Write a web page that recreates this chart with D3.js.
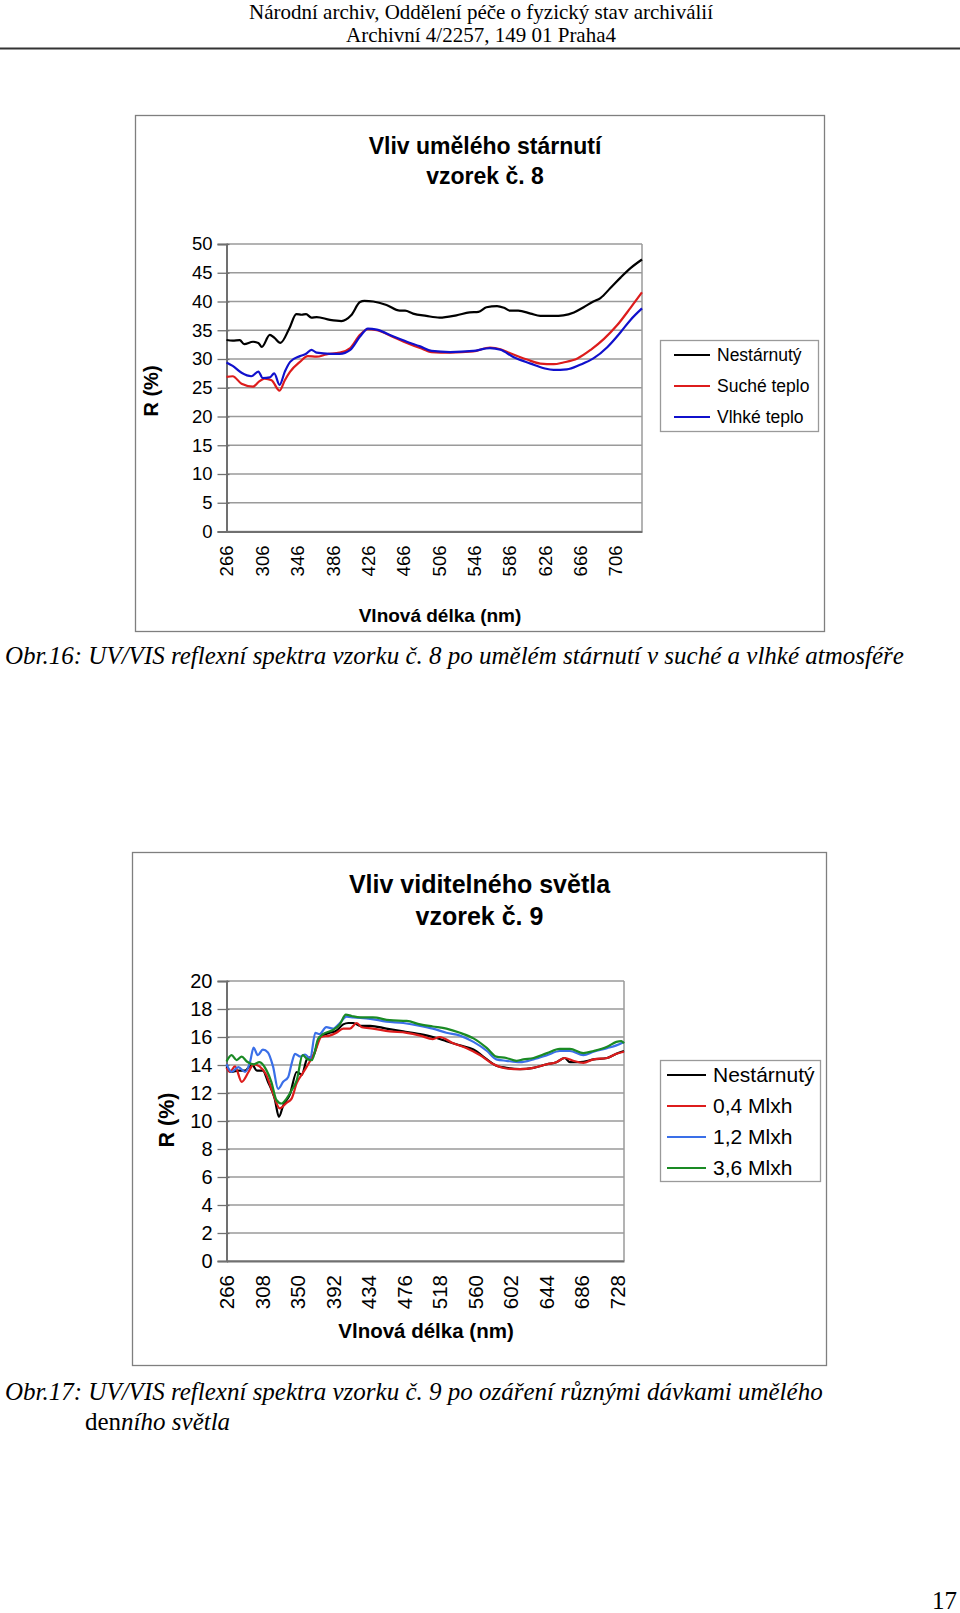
<!DOCTYPE html>
<html><head><meta charset="utf-8">
<script src="https://cdn.jsdelivr.net/npm/d3@7"></script>
<style>
body{margin:0;background:#fff;}
svg{display:block;}
.serif{font-family:"Liberation Serif","Times New Roman",serif;}
.sans{font-family:"Liberation Sans",Arial,sans-serif;}
</style></head>
<body>
<svg id="page" width="960" height="1613"></svg>
<script>
// ---------- DATA ----------
// Chart 1: Vliv umělého stárnutí, vzorek č. 8  ([wavelength nm, R %])
const c8Nestarnuty = [[266,33.3],[273,33.2],[281,33.3],[286,32.6],[296,33.0],[302,32.8],[306,32.1],[315,34.2],[320,33.7],[327,32.8],[337,35.3],[345,37.8],[351,37.7],[356,37.8],[362,37.2],[368,37.3],[383,36.8],[396,36.6],[407,37.6],[417,39.9],[422,40.1],[432,40.0],[447,39.4],[462,38.4],[468,38.4],[477,37.9],[492,37.5],[507,37.2],[526,37.6],[541,38.1],[551,38.2],[560,39.0],[572,39.2],[580,38.9],[587,38.4],[596,38.4],[610,37.9],[621,37.5],[636,37.5],[647,37.6],[659,38.1],[670,39.0],[681,40.0],[689,40.6],[700,42.3],[712,44.2],[723,45.8],[736,47.3]];
const c8Suche = [[266,26.9],[273,27.0],[283,25.7],[296,25.2],[303,26.1],[309,26.6],[317,26.3],[326,24.5],[332,26.3],[338,27.8],[349,29.5],[358,30.5],[368,30.4],[379,30.8],[394,31.1],[406,31.9],[417,34.2],[426,35.2],[436,35.0],[455,33.8],[470,32.8],[485,31.9],[498,31.2],[519,31.1],[545,31.3],[564,32.0],[576,31.7],[587,31.0],[606,29.9],[621,29.2],[636,29.1],[647,29.4],[663,30.1],[678,31.6],[693,33.5],[708,35.9],[723,38.9],[736,41.6]];
const c8Vlhke = [[266,29.4],[273,28.8],[283,27.6],[294,27.0],[302,27.8],[307,26.7],[315,26.8],[320,27.5],[326,25.5],[332,27.8],[338,29.5],[349,30.5],[356,30.9],[362,31.6],[368,31.1],[383,30.9],[394,30.9],[406,31.6],[417,33.9],[426,35.3],[436,35.1],[455,33.9],[470,33.0],[485,32.2],[498,31.4],[519,31.2],[545,31.4],[564,31.9],[576,31.6],[591,30.3],[610,29.2],[625,28.4],[636,28.1],[651,28.2],[666,29.0],[681,30.1],[697,32.1],[712,34.7],[723,36.8],[736,38.8]];
const c8XTicks = [266,306,346,386,426,466,506,546,586,626,666,706];
const c8YTicks = [0,5,10,15,20,25,30,35,40,45,50];
const c8Names = ["Nestárnutý","Suché teplo","Vlhké teplo"];

// Chart 2: Vliv viditelného světla, vzorek č. 9
const c9Nestarnuty = [[266,13.9],[272,13.5],[280,13.6],[288,13.6],[296,14.05],[302,13.6],[309,13.6],[315,12.8],[323,11.6],[328,10.3],[333,11.1],[341,11.9],[349,13.5],[355,13.3],[361,14.4],[369,14.7],[376,16.0],[388,16.3],[396,16.45],[404,16.9],[410,17.0],[416,17.0],[424,16.8],[436,16.8],[455,16.6],[475,16.4],[495,16.2],[510,16.0],[526,15.7],[542,15.4],[558,15.1],[574,14.4],[585,13.95],[597,13.8],[613,13.7],[629,13.8],[645,14.05],[656,14.2],[666,14.5],[672,14.2],[684,14.2],[700,14.4],[716,14.5],[727,14.8],[736,15.0]];
const c9Dose04 = [[266,13.8],[270,13.5],[276,13.9],[284,12.8],[292,13.5],[298,14.05],[305,13.9],[313,13.3],[321,12.0],[329,10.9],[337,11.3],[343,11.6],[349,12.7],[357,13.5],[365,14.3],[371,15.0],[378,16.0],[388,16.1],[396,16.3],[404,16.6],[412,16.6],[420,17.0],[426,16.7],[439,16.6],[459,16.4],[479,16.3],[495,16.1],[510,15.85],[518,16.0],[534,15.55],[550,15.2],[566,14.7],[582,14.05],[597,13.75],[613,13.7],[629,13.8],[645,14.05],[656,14.2],[666,14.5],[676,14.3],[688,14.15],[700,14.4],[716,14.5],[727,14.8],[736,14.95]];
const c9Dose12 = [[266,14.05],[272,13.5],[280,13.85],[288,13.5],[294,14.25],[298,15.25],[303,14.7],[309,15.1],[315,14.9],[321,13.9],[327,12.3],[333,12.8],[339,13.15],[343,14.1],[347,14.8],[353,14.6],[359,14.75],[365,14.45],[371,16.3],[376,16.2],[384,16.7],[392,16.6],[400,17.0],[408,17.45],[416,17.4],[436,17.3],[455,17.1],[475,17.0],[495,16.8],[510,16.6],[526,16.3],[542,16.1],[558,15.65],[574,15.0],[585,14.4],[597,14.3],[613,14.2],[629,14.4],[645,14.7],[660,15.0],[672,15.0],[688,14.7],[700,14.95],[716,15.2],[727,15.4],[736,15.65]];
const c9Dose36 = [[266,14.25],[272,14.7],[278,14.35],[284,14.6],[290,14.25],[298,14.05],[305,14.2],[313,13.65],[319,12.8],[325,11.5],[331,11.25],[337,11.6],[343,12.2],[349,12.9],[356,14.7],[361,14.45],[367,14.35],[374,15.8],[380,16.2],[392,16.5],[400,16.9],[407,17.6],[414,17.5],[424,17.4],[439,17.4],[459,17.2],[479,17.15],[495,16.9],[510,16.75],[526,16.6],[542,16.3],[558,15.9],[574,15.2],[585,14.6],[597,14.5],[609,14.3],[617,14.4],[629,14.5],[645,14.85],[660,15.15],[672,15.15],[688,14.85],[700,15.0],[716,15.3],[727,15.65],[733,15.7],[736,15.55]];
const c9XTicks = [266,308,350,392,434,476,518,560,602,644,686,728];
const c9YTicks = [0,2,4,6,8,10,12,14,16,18,20];
const c9Names = ["Nestárnutý","0,4 Mlxh","1,2 Mlxh","3,6 Mlxh"];

// ---------- DRAW ----------
const svg = d3.select("#page");
svg.append("rect").attr("width",960).attr("height",1613).attr("fill","#fff");

// header
const hdr = svg.append("g").attr("class","serif").attr("fill","#000").attr("text-anchor","middle");
hdr.append("text").attr("x",481).attr("y",19).attr("font-size",21).text("Národní archiv, Oddělení péče o fyzický stav archiválií");
hdr.append("text").attr("x",481).attr("y",42).attr("font-size",21).text("Archivní 4/2257, 149 01 Praha4");
svg.append("line").attr("x1",0).attr("x2",960).attr("y1",48.5).attr("y2",48.5).attr("stroke","#333").attr("stroke-width",2);

function drawChart(o){
  const g = svg.append("g").attr("class","sans");
  g.append("rect").attr("x",o.frame[0]+0.5).attr("y",o.frame[1]+0.5)
    .attr("width",o.frame[2]-o.frame[0]).attr("height",o.frame[3]-o.frame[1])
    .attr("fill","#fff").attr("stroke","#7f7f7f").attr("stroke-width",1.3);
  // title
  o.title.forEach((t,i)=>{
    g.append("text").attr("x",o.titleX).attr("y",o.titleY[i]).attr("text-anchor","middle")
     .attr("font-size",o.titleSize).attr("font-weight","bold").text(t);
  });
  const x = d3.scaleLinear().domain([266,736]).range([o.plot[0],o.plot[2]]);
  const y = d3.scaleLinear().domain([o.yTicks[0], o.yTicks[o.yTicks.length-1]]).range([o.plot[3],o.plot[1]]);
  // gridlines
  g.append("g").selectAll("line").data(o.yTicks).join("line")
    .attr("x1",o.plot[0]).attr("x2",o.plot[2]).attr("y1",d=>y(d)).attr("y2",d=>y(d))
    .attr("stroke","#9a9a9a").attr("stroke-width",1.3);
  // plot border right
  g.append("line").attr("x1",o.plot[2]).attr("x2",o.plot[2]).attr("y1",o.plot[1]).attr("y2",o.plot[3])
    .attr("stroke","#9a9a9a").attr("stroke-width",1.5);
  // y axis
  const ya = g.append("g").attr("transform",`translate(${o.plot[0]},0)`)
    .call(d3.axisLeft(y).tickValues(o.yTicks).tickSize(9).tickPadding(o.yPad).tickFormat(d=>d));
  ya.attr("font-family",null);
  ya.select(".domain").attr("stroke","#707070").attr("stroke-width",2);
  ya.selectAll(".tick line").attr("stroke","#707070").attr("stroke-width",1.3).attr("x2",-9).attr("x1",3);
  ya.selectAll("text").attr("font-size",o.yTickSize).attr("fill","#000");
  // x axis
  const xa = g.append("g").attr("transform",`translate(0,${o.plot[3]})`)
    .call(d3.axisBottom(x).tickValues(o.xTicks).tickSize(0).tickFormat(d=>d));
  xa.attr("font-family",null);
  xa.select(".domain").attr("stroke","#707070").attr("stroke-width",2);
  xa.selectAll("text").attr("font-size",o.xTickSize).attr("fill","#000")
    .attr("transform",`translate(0,${o.xLabOff}) rotate(-90)`).attr("text-anchor","end")
    .attr("dy","0.35em").attr("x",0).attr("y",0);
  // series
  const line = d3.line().x(d=>x(d[0])).y(d=>y(d[1])).curve(d3.curveMonotoneX);
  o.series.forEach((s,i)=>{
    g.append("path").datum(s).attr("d",line).attr("fill","none")
      .attr("stroke",o.colors[i]).attr("stroke-width",2.2).attr("stroke-linejoin","round");
  });
  // axis titles
  g.append("text").attr("x",o.xTitle[0]).attr("y",o.xTitle[1]).attr("text-anchor","middle")
    .attr("font-size",o.axTitleSize).attr("font-weight","bold").text("Vlnová délka (nm)");
  g.append("text").attr("transform",`translate(${o.yTitle[0]},${o.yTitle[1]}) rotate(-90)`)
    .attr("text-anchor","middle").attr("dy","0.35em")
    .attr("font-size",o.yTitleSize).attr("font-weight","bold").text("R (%)");
  // legend
  const L = o.legend;
  g.append("rect").attr("x",L.box[0]+0.5).attr("y",L.box[1]+0.5).attr("width",L.box[2]-L.box[0]).attr("height",L.box[3]-L.box[1])
    .attr("fill","#fff").attr("stroke","#9a9a9a").attr("stroke-width",1.3);
  o.names.forEach((n,i)=>{
    const yy = L.y0 + i*L.dy;
    g.append("line").attr("x1",L.lx[0]).attr("x2",L.lx[1]).attr("y1",yy).attr("y2",yy)
      .attr("stroke",o.colors[i]).attr("stroke-width",2.2);
    g.append("text").attr("x",L.tx).attr("y",yy).attr("dy","0.35em").attr("font-size",L.size).text(n);
  });
}

drawChart({
  frame:[135,115,824,631],
  title:["Vliv umělého stárnutí","vzorek č. 8"], titleX:485, titleY:[154,184], titleSize:23,
  plot:[226.5,244,642,531.5],
  xTicks:c8XTicks, yTicks:c8YTicks, yTickSize:18.5, xTickSize:18.5, yPad:5, xLabOff:14,
  series:[c8Nestarnuty,c8Suche,c8Vlhke], colors:["#000000","#dd1c1c","#1010cc"],
  names:c8Names,
  xTitle:[440,622], yTitle:[151,391], axTitleSize:19, yTitleSize:20,
  legend:{box:[660,340,818,431], y0:355, dy:31, lx:[674,710], tx:717, size:17.5}
});

drawChart({
  frame:[132,852,826,1365],
  title:["Vliv viditelného světla","vzorek č. 9"], titleX:479.5, titleY:[893,925], titleSize:25,
  plot:[226.5,981,624,1261],
  xTicks:c9XTicks, yTicks:c9YTicks, yTickSize:20, xTickSize:20.5, yPad:5, xLabOff:14,
  series:[c9Nestarnuty,c9Dose04,c9Dose12,c9Dose36], colors:["#000000","#dd1c1c","#3a6fe8","#1a8a24"],
  names:c9Names,
  xTitle:[426,1338], yTitle:[166,1120], axTitleSize:20.5, yTitleSize:21.5,
  legend:{box:[660,1060,820,1181], y0:1075, dy:31, lx:[667,706], tx:713, size:21}
});

// captions
const cap = svg.append("g").attr("class","serif").attr("font-style","italic").attr("font-size",25);
cap.append("text").attr("x",5).attr("y",664).text("Obr.16: UV/VIS reflexní spektra vzorku č. 8 po umělém stárnutí v suché a vlhké atmosféře");
cap.append("text").attr("x",5).attr("y",1400).text("Obr.17: UV/VIS reflexní spektra vzorku č. 9 po ozáření různými dávkami umělého");
const l2 = cap.append("text").attr("x",85).attr("y",1430);
l2.append("tspan").attr("font-style","normal").text("den");
l2.append("tspan").text("ního světla");

svg.append("text").attr("class","serif").attr("x",957).attr("y",1609).attr("text-anchor","end").attr("font-size",25).text("17");
</script>
</body></html>
